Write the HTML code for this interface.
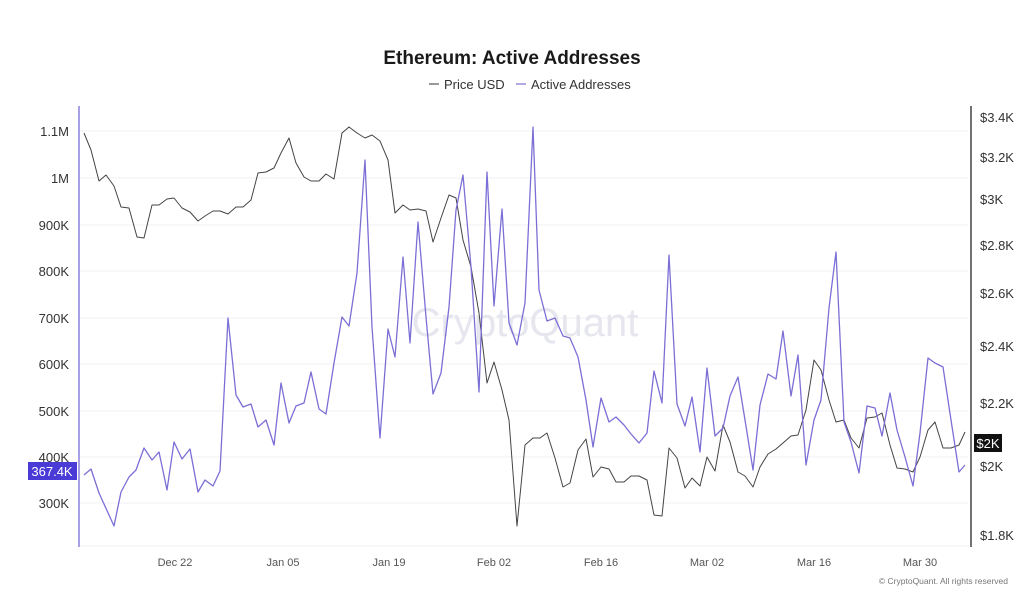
<!DOCTYPE html>
<html><head><meta charset="utf-8"><style>
html,body{margin:0;padding:0;background:#fff;}
svg{display:block;font-family:"Liberation Sans",sans-serif;}
</style></head><body>
<svg width="1024" height="607" viewBox="0 0 1024 607" xmlns="http://www.w3.org/2000/svg">
<rect width="1024" height="607" fill="#fff"/>
<text x="512" y="64" text-anchor="middle" font-size="19" font-weight="bold" fill="#1a1a1a">Ethereum: Active Addresses</text>
<line x1="429" y1="84" x2="439" y2="84" stroke="#555" stroke-width="1.2"/>
<text x="444" y="89" font-size="13" fill="#333">Price USD</text>
<line x1="516" y1="84" x2="526" y2="84" stroke="#7b6fd6" stroke-width="1.2"/>
<text x="531" y="89" font-size="13" fill="#333">Active Addresses</text>
<g stroke="#f1f1f4" stroke-width="1">
<line x1="80" y1="131" x2="968" y2="131"/><line x1="80" y1="178" x2="968" y2="178"/>
<line x1="80" y1="225" x2="968" y2="225"/><line x1="80" y1="271" x2="968" y2="271"/>
<line x1="80" y1="318" x2="968" y2="318"/><line x1="80" y1="364" x2="968" y2="364"/>
<line x1="80" y1="411" x2="968" y2="411"/><line x1="80" y1="457" x2="968" y2="457"/>
<line x1="80" y1="503" x2="968" y2="503"/><line x1="80" y1="546" x2="968" y2="546"/>
</g>
<text x="525" y="336" text-anchor="middle" font-size="40" fill="#e6e6ee">CryptoQuant</text>
<line x1="79" y1="106" x2="79" y2="547" stroke="#8a80dc" stroke-width="1.5"/>
<line x1="971" y1="106" x2="971" y2="547" stroke="#444" stroke-width="1.5"/>
<g font-size="13" fill="#333" text-anchor="end">
<text x="69" y="136">1.1M</text><text x="69" y="183">1M</text><text x="69" y="230">900K</text>
<text x="69" y="276">800K</text><text x="69" y="323">700K</text><text x="69" y="369">600K</text>
<text x="69" y="416">500K</text><text x="69" y="462">400K</text><text x="69" y="508">300K</text>
</g>
<rect x="28" y="462" width="49" height="18" fill="#4a3ad6"/>
<text x="52" y="476" text-anchor="middle" font-size="13" fill="#fff">367.4K</text>
<g font-size="13" fill="#333">
<text x="980" y="122">$3.4K</text><text x="980" y="162">$3.2K</text><text x="980" y="204">$3K</text>
<text x="980" y="250">$2.8K</text><text x="980" y="298">$2.6K</text><text x="980" y="351">$2.4K</text>
<text x="980" y="408">$2.2K</text><text x="980" y="471">$2K</text><text x="980" y="540">$1.8K</text>
</g>
<rect x="974" y="434" width="28" height="18" fill="#111"/>
<text x="988" y="448" text-anchor="middle" font-size="13" fill="#fff">$2K</text>
<g font-size="11" fill="#555" text-anchor="middle">
<text x="175" y="566">Dec 22</text><text x="283" y="566">Jan 05</text><text x="389" y="566">Jan 19</text>
<text x="494" y="566">Feb 02</text><text x="601" y="566">Feb 16</text><text x="707" y="566">Mar 02</text>
<text x="814" y="566">Mar 16</text><text x="920" y="566">Mar 30</text>
</g>
<text x="1008" y="584" text-anchor="end" font-size="8.5" fill="#777">© CryptoQuant. All rights reserved</text>
<polyline fill="none" stroke="#444" stroke-width="1" stroke-linejoin="round" points="84,133 91,150 99,181 106,175 114,186 121,207 129,208 137,237 144,238 152,205 159,205 167,199 174,198 182,208 190,212 198,221 205,216 213,211 220,211 228,214 236,207 243,207 251,200 258,173 266,172 274,168 281,153 289,138 296,163 304,177 311,181 319,181 326,174 334,179 342,133 349,127 357,133 365,138 372,135 380,141 388,160 395,213 403,205 410,210 418,209 426,211 433,242 441,218 449,195 456,198 463,240 471,267 479,313 487,383 494,362 502,390 509,420 517,526 525,445 533,438 540,438 547,433 555,458 563,487 570,483 578,450 586,439 593,477 601,467 609,469 616,482 624,482 631,476 639,476 647,480 654,515 662,516 669,448 677,458 685,488 692,478 700,486 707,457 715,471 723,425 730,442 738,472 745,476 753,487 760,467 768,454 776,449 783,443 791,436 798,435 806,410 814,360 821,370 829,400 836,422 844,420 851,438 859,448 867,418 875,417 882,413 890,445 897,468 905,469 913,472 920,457 928,430 935,422 943,448 951,448 959,445 965,432"/>
<polyline fill="none" stroke="#7b6fd6" stroke-width="1.3" stroke-linejoin="round" points="84,475 91,469 99,493 114,526 121,492 129,477 136,470 144,448 152,460 159,452 167,490 174,442 182,459 190,449 198,492 205,480 213,486 220,471 228,318 236,395 243,407 251,404 258,427 266,420 274,445 281,383 289,423 296,406 304,403 311,372 319,409 326,414 334,363 342,317 349,326 357,273 365,160 372,327 380,438 388,329 395,357 403,257 410,343 418,222 426,317 433,394 441,373 449,307 456,210 463,175 471,267 479,392 487,172 494,306 502,209 509,323 517,345 525,303 533,127 539,290 547,321 555,318 563,336 570,338 578,357 586,400 593,447 601,398 609,422 616,417 624,425 631,434 639,443 647,433 654,371 662,403 669,255 677,404 685,426 692,397 700,452 707,368 715,436 723,428 730,396 738,377 745,420 753,470 760,405 768,374 776,379 783,331 791,396 798,355 806,465 814,420 821,400 829,308 836,252 844,422 851,442 859,473 867,406 875,408 882,436 890,393 897,430 905,457 913,486 920,433 928,358 935,363 943,367 951,420 959,472 965,465"/>
</svg>
</body></html>
